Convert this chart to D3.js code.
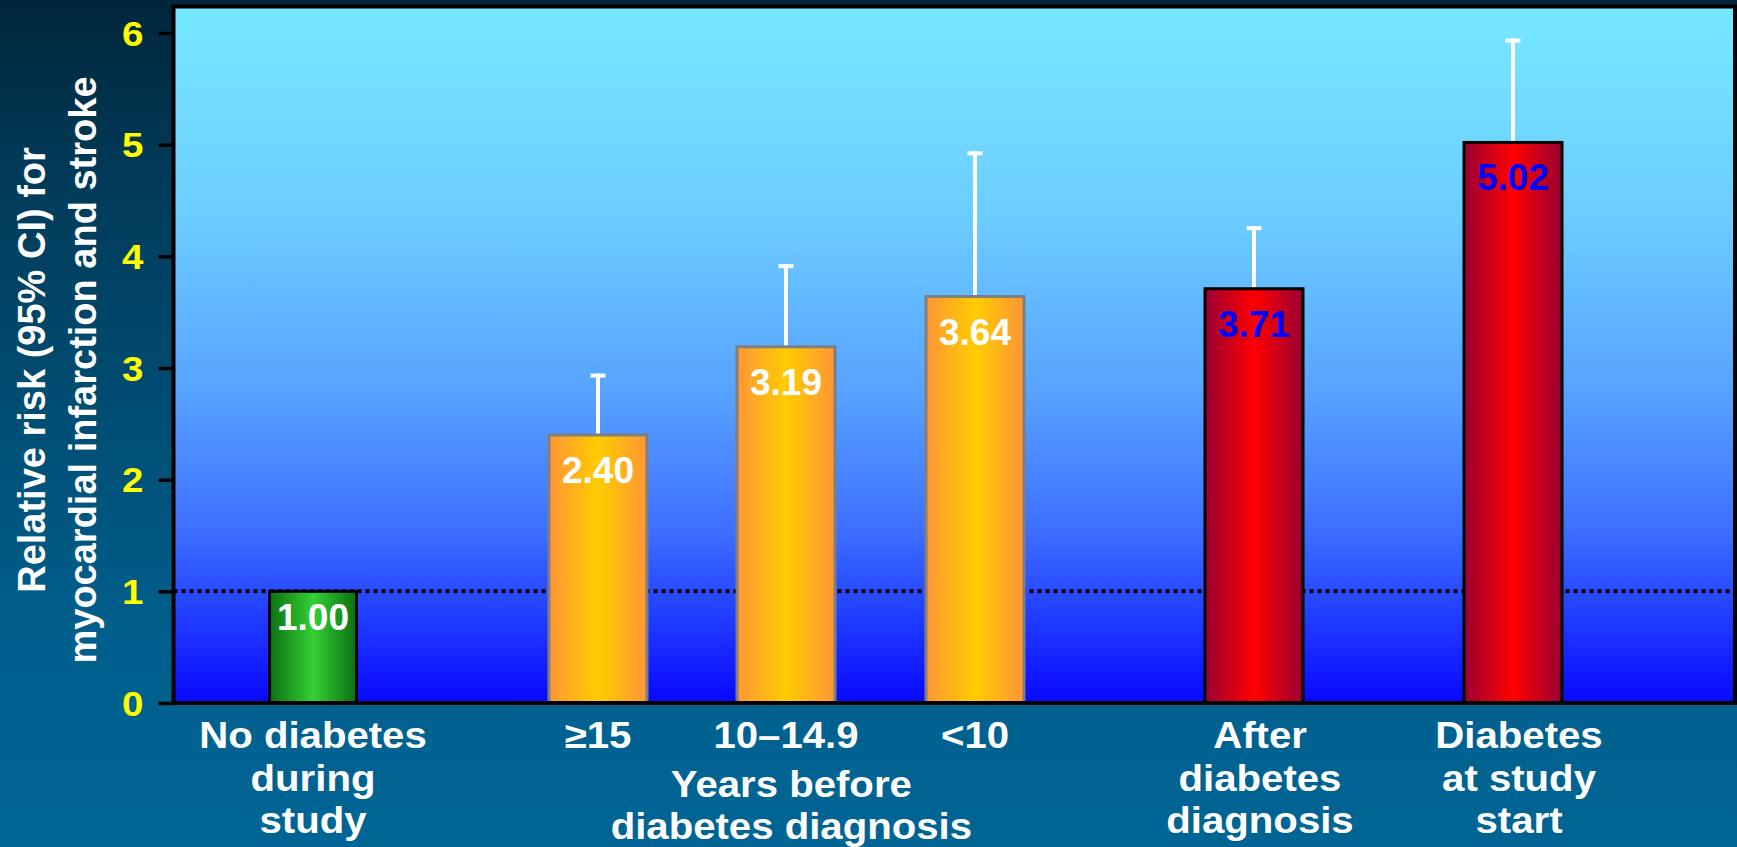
<!DOCTYPE html>
<html>
<head>
<meta charset="utf-8">
<script src="https://cdn.jsdelivr.net/npm/d3@7/dist/d3.min.js"></script>
<style>
  html, body { margin: 0; padding: 0; background: #00628f; }
  svg { display: block; }
  text { font-family: "Liberation Sans", Arial, Helvetica, sans-serif; font-weight: bold; }
</style>
</head>
<body>
<svg id="chart" width="1737" height="847"></svg>
<script>
// ---- data ----
const categories = ["No diabetes during study", "≥15", "10–14.9", "<10", "After diabetes diagnosis", "Diabetes at study start"];
const categoryLines = [["No diabetes", "during", "study"], ["≥15"], ["10–14.9"], ["<10"], ["After", "diabetes", "diagnosis"], ["Diabetes", "at study", "start"]];
const groups = ["reference", "before", "before", "before", "after", "after"];
const relativeRisk = [1.00, 2.40, 3.19, 3.64, 3.71, 5.02];
const upperCI = [null, 2.95, 3.93, 4.94, 4.27, 5.95];
const yTicks = [0, 1, 2, 3, 4, 5, 6];
const groupLabel = ["Years before", "diabetes diagnosis"];
const yTitle = ["Relative risk (95% CI) for", "myocardial infarction and stroke"];
const referenceLine = 1;

// ---- layout ----
const W = 1737, H = 847;
const plot = { left: 173.5, right: 1735, top: 6.5, bottom: 703 };
const barCenters = [313, 598, 786, 975, 1254, 1513];
const stretch = 1.1;   // lettering is set slightly wide

const groupStyle = {
  reference: { edge: "#0b7012", mid: "#35d035", stroke: "#000000", width: 89, label: "#ffffff", labelDy: 39 },
  before:    { edge: "#ff9636", mid: "#ffcc00", stroke: "#7f7f7f", width: 100, label: "#ffffff", labelDy: 48 },
  after:     { edge: "#990033", mid: "#ff0000", stroke: "#000000", width: 100, label: "#0000ff", labelDy: 48 }
};

const svg = d3.select("#chart");
const defs = svg.append("defs");

// page background
const bg = defs.append("linearGradient").attr("id", "bg").attr("x1", 0).attr("y1", 0).attr("x2", 0).attr("y2", 1);
[[0, "#00263a"], [0.2, "#013a58"], [0.75, "#005f8c"], [1, "#006595"]].forEach(([o, c]) =>
  bg.append("stop").attr("offset", o).attr("stop-color", c));
svg.append("rect").attr("width", W).attr("height", H).attr("fill", "url(#bg)");

// plot area background
const pg = defs.append("linearGradient").attr("id", "plotbg").attr("x1", 0).attr("y1", 0).attr("x2", 0).attr("y2", 1);
[[0, "#77e8ff"], [0.3, "#6ccdff"], [0.55, "#58a3ff"], [0.75, "#3e70ff"], [0.86, "#2444ff"], [1, "#0808ff"]].forEach(([o, c]) =>
  pg.append("stop").attr("offset", o).attr("stop-color", c));

// bar gradients (horizontal: dark edges, bright centre)
Object.entries(groupStyle).forEach(([k, s]) => {
  const g = defs.append("linearGradient").attr("id", "bar-" + k).attr("x1", 0).attr("y1", 0).attr("x2", 1).attr("y2", 0);
  [[0, s.edge], [0.5, s.mid], [1, s.edge]].forEach(([o, c]) =>
    g.append("stop").attr("offset", o).attr("stop-color", c));
});

// ---- scales ----
const y = d3.scaleLinear().domain([0, 6]).range([plot.bottom, 33]);
const x = d3.scaleOrdinal().domain(categories).range(barCenters);

svg.append("rect")
  .attr("x", plot.left).attr("y", plot.top)
  .attr("width", plot.right - plot.left).attr("height", plot.bottom - plot.top)
  .attr("fill", "url(#plotbg)");

// reference line at RR = 1
svg.append("line")
  .attr("x1", plot.left).attr("x2", plot.right)
  .attr("y1", y(referenceLine)).attr("y2", y(referenceLine))
  .attr("stroke", "#000").attr("stroke-width", 4).attr("stroke-dasharray", "4,4");

const data = categories.map((c, i) => ({
  cat: c, lines: categoryLines[i], group: groups[i], value: relativeRisk[i], hi: upperCI[i]
}));

// error bars (upper limit only)
const eb = svg.append("g").selectAll("g").data(data.filter(d => d.hi != null)).join("g");
eb.append("line")
  .attr("x1", d => x(d.cat)).attr("x2", d => x(d.cat))
  .attr("y1", d => y(d.value)).attr("y2", d => y(d.hi))
  .attr("stroke", "#fff").attr("stroke-width", 4);
eb.append("line")
  .attr("x1", d => x(d.cat) - 7.5).attr("x2", d => x(d.cat) + 7.5)
  .attr("y1", d => y(d.hi) + 2).attr("y2", d => y(d.hi) + 2)
  .attr("stroke", "#fff").attr("stroke-width", 4);

// bars
svg.append("g").selectAll("rect").data(data).join("rect")
  .attr("x", d => x(d.cat) - groupStyle[d.group].width / 2 + 1)
  .attr("width", d => groupStyle[d.group].width - 2)
  .attr("y", d => y(d.value))
  .attr("height", d => y(0) - y(d.value))
  .attr("fill", d => `url(#bar-${d.group})`)
  .attr("stroke", d => groupStyle[d.group].stroke)
  .attr("stroke-width", 3);

// value labels
const fmt = d3.format(".2f");
svg.append("g").selectAll("text").data(data).join("text")
  .attr("x", d => x(d.cat))
  .attr("y", d => y(d.value) + groupStyle[d.group].labelDy)
  .attr("text-anchor", "middle")
  .attr("font-size", 37)
  .attr("fill", d => groupStyle[d.group].label)
  .text(d => fmt(d.value));

// plot frame (top & right) and axes
svg.append("rect")
  .attr("x", plot.left).attr("y", plot.top)
  .attr("width", plot.right - plot.left).attr("height", plot.bottom - plot.top)
  .attr("fill", "none").attr("stroke", "#000").attr("stroke-width", 4);

const yAxis = d3.axisLeft(y).tickValues(yTicks).tickSize(15).tickFormat(d3.format("d"));
const ya = svg.append("g").attr("transform", `translate(${plot.left},0)`).call(yAxis);
ya.select(".domain").remove();
ya.selectAll(".tick line").attr("stroke", "#000").attr("stroke-width", 3.5);
ya.selectAll(".tick text").remove();
ya.selectAll(".tick").append("g")
  .attr("transform", `translate(-30,12) scale(${stretch},1)`)
  .append("text")
  .attr("text-anchor", "end")
  .attr("font-size", 35)
  .attr("fill", "#ffff00")
  .text(d => d3.format("d")(d));

svg.append("line")
  .attr("x1", plot.left - 2).attr("x2", plot.right + 2)
  .attr("y1", plot.bottom).attr("y2", plot.bottom)
  .attr("stroke", "#000").attr("stroke-width", 4);

// category labels
const lineBase = [748, 790.5, 833];
const cl = svg.append("g").selectAll("g").data(data).join("g")
  .attr("transform", d => `translate(${x(d.cat) + (d.group === "after" ? 6 : 0)},0)`);
cl.selectAll("g").data(d => d.lines).join("g")
  .attr("transform", (t, i) => `translate(0,${lineBase[i]}) scale(${stretch},1)`)
  .append("text")
  .attr("text-anchor", "middle")
  .attr("font-size", 36.5)
  .attr("fill", "#fff")
  .text(t => t);

// group caption under the three "years before" bars
const gx = d3.mean(data.filter(d => d.group === "before"), d => x(d.cat));
svg.append("g").selectAll("g").data(groupLabel).join("g")
  .attr("transform", (t, i) => `translate(${gx + 5},${[797, 839][i]}) scale(${stretch},1)`)
  .append("text")
  .attr("text-anchor", "middle")
  .attr("font-size", 36.5)
  .attr("fill", "#fff")
  .text(t => t);

// y-axis title
svg.append("g").selectAll("text").data(yTitle).join("text")
  .attr("transform", (t, i) => `translate(${[45, 96][i]},370) rotate(-90)`)
  .attr("text-anchor", "middle")
  .attr("font-size", 38)
  .attr("fill", "#fff")
  .text(t => t);
</script>
</body>
</html>
